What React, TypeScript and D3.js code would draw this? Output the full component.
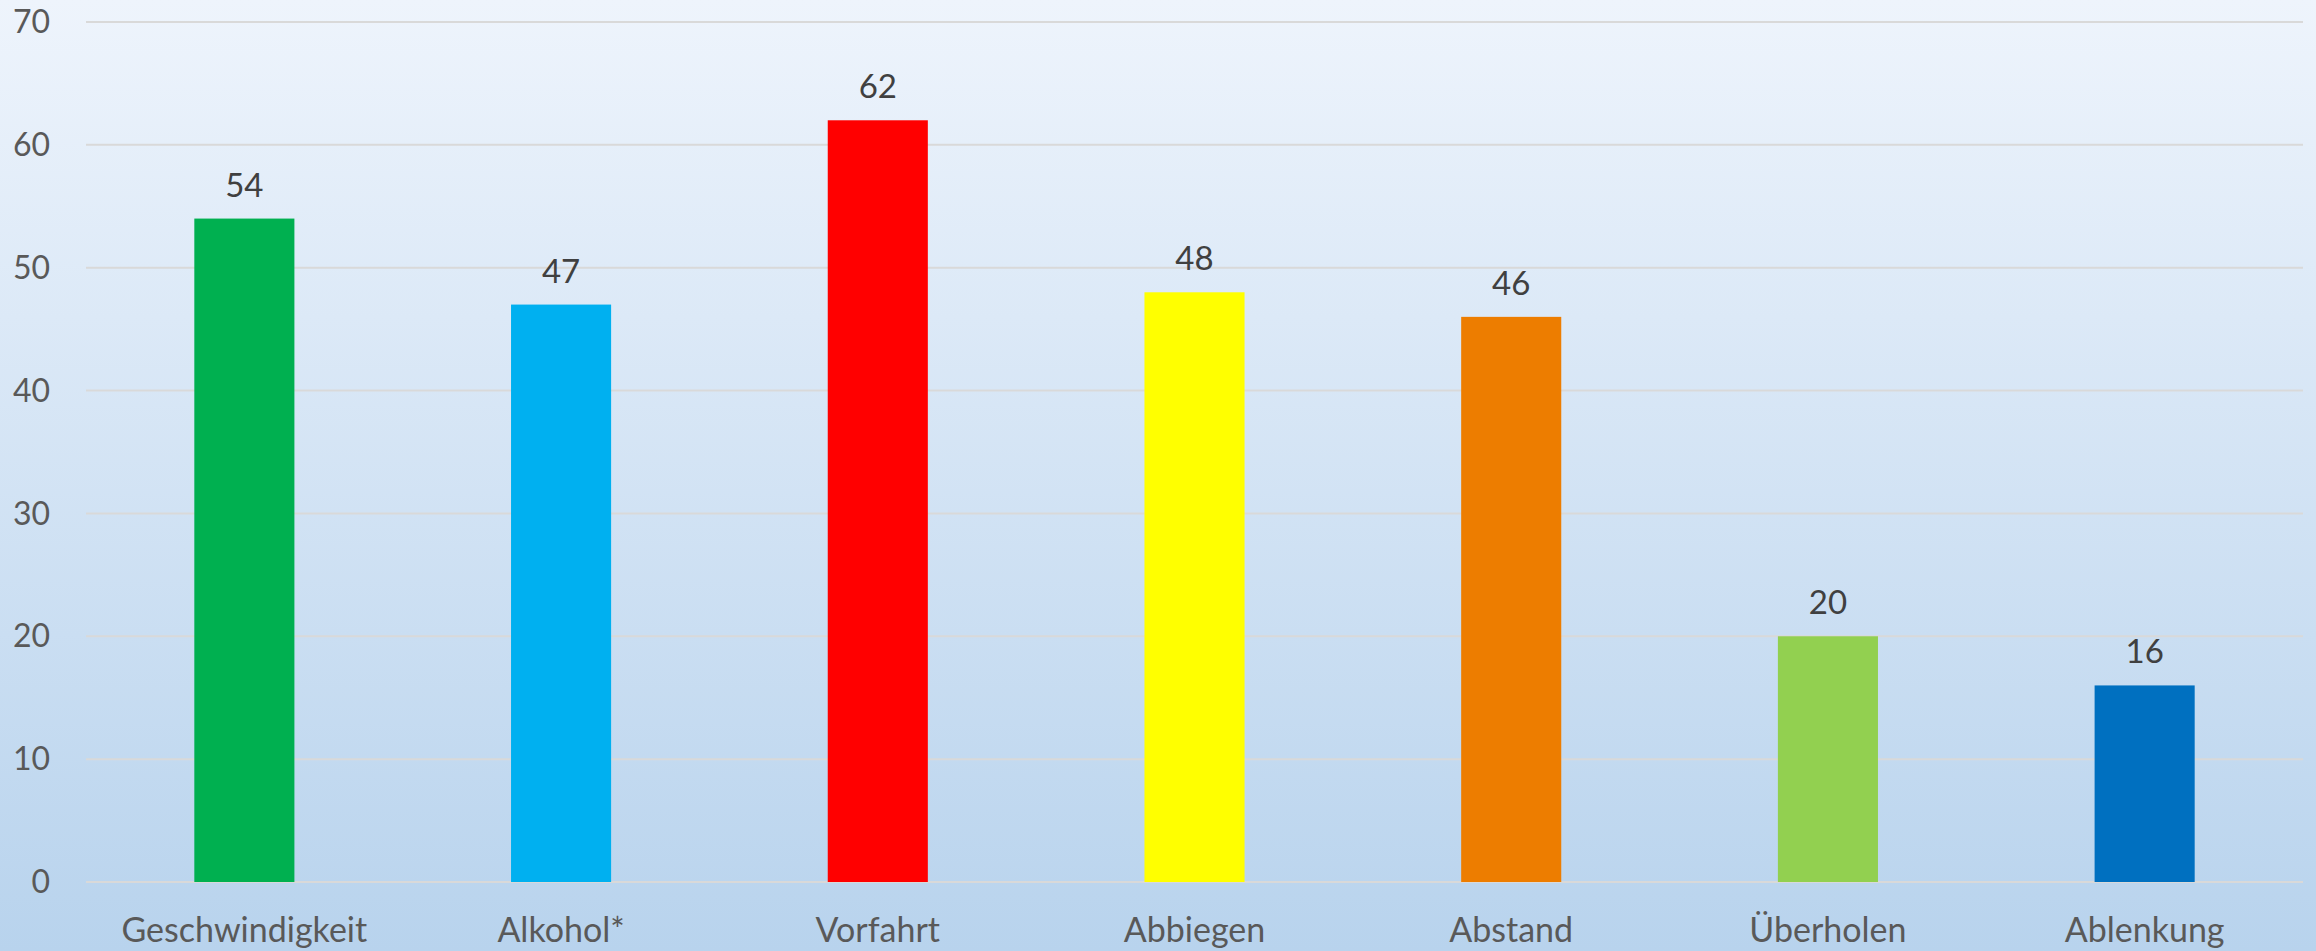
import { useEffect, useRef } from "react";
import * as d3 from "d3";

const categories = [
  "Geschwindigkeit",
  "Alkohol*",
  "Vorfahrt",
  "Abbiegen",
  "Abstand",
  "Überholen",
  "Ablenkung",
];
const values = [54, 47, 62, 48, 46, 20, 16];
const barColors = [
  "#00b050",
  "#00b0f0",
  "#ff0000",
  "#ffff00",
  "#ed7d00",
  "#92d050",
  "#0070c0",
];
const yTicks = [0, 10, 20, 30, 40, 50, 60, 70];

const width = 2316;
const height = 951;
const margin = { top: 22, right: 13, bottom: 69, left: 86 };
const font = "Lato, 'Open Sans', sans-serif";

export default function App() {
  const svgRef = useRef<SVGSVGElement>(null);

  useEffect(() => {
    const svg = d3.select(svgRef.current);
    svg.selectAll("*").remove();
    svg.attr("width", width).attr("height", height);

    const defs = svg.append("defs");
    const grad = defs
      .append("linearGradient")
      .attr("id", "bg")
      .attr("x1", 0)
      .attr("y1", 0)
      .attr("x2", 0)
      .attr("y2", 1);
    grad.append("stop").attr("offset", "0%").attr("stop-color", "#eef4fc");
    grad.append("stop").attr("offset", "100%").attr("stop-color", "#b8d3ed");

    svg
      .append("rect")
      .attr("width", width)
      .attr("height", height)
      .attr("fill", "url(#bg)");

    const x = d3
      .scaleBand()
      .domain(categories)
      .range([margin.left, width - margin.right])
      .paddingInner(0.684)
      .paddingOuter(0.342);

    const y = d3
      .scaleLinear()
      .domain([0, 70])
      .range([height - margin.bottom, margin.top]);

    // gridlines
    svg
      .append("g")
      .selectAll("line")
      .data(yTicks)
      .join("line")
      .attr("x1", margin.left)
      .attr("x2", width - margin.right)
      .attr("y1", (d) => y(d))
      .attr("y2", (d) => y(d))
      .attr("stroke", "#d9d9d9")
      .attr("stroke-width", 2);

    // y tick labels
    svg
      .append("g")
      .selectAll("text")
      .data(yTicks)
      .join("text")
      .attr("x", 50)
      .attr("y", (d) => y(d))
      .attr("dy", "0.35em")
      .attr("text-anchor", "end")
      .attr("font-family", font)
      .attr("font-size", 32)
      .attr("fill", "#595959")
      .text((d) => d);

    const data = categories.map((c, i) => ({ c, v: values[i], color: barColors[i] }));

    // bars
    svg
      .append("g")
      .selectAll("rect")
      .data(data)
      .join("rect")
      .attr("x", (d) => x(d.c)!)
      .attr("width", x.bandwidth())
      .attr("y", (d) => y(d.v))
      .attr("height", (d) => y(0) - y(d.v))
      .attr("fill", (d) => d.color);

    // value labels
    svg
      .append("g")
      .selectAll("text")
      .data(data)
      .join("text")
      .attr("x", (d) => x(d.c)! + x.bandwidth() / 2)
      .attr("y", (d) => y(d.v) - 22)
      .attr("text-anchor", "middle")
      .attr("font-family", font)
      .attr("font-size", 33)
      .attr("fill", "#404040")
      .text((d) => d.v);

    // category labels
    svg
      .append("g")
      .selectAll("text")
      .data(data)
      .join("text")
      .attr("x", (d) => x(d.c)! + x.bandwidth() / 2)
      .attr("y", 942)
      .attr("text-anchor", "middle")
      .attr("font-family", font)
      .attr("font-size", 34)
      .attr("fill", "#595959")
      .text((d) => d.c);
  }, []);

  return (
    <svg
      ref={svgRef}
      style={{ position: "absolute", left: 0, top: 0, display: "block" }}
    />
  );
}
